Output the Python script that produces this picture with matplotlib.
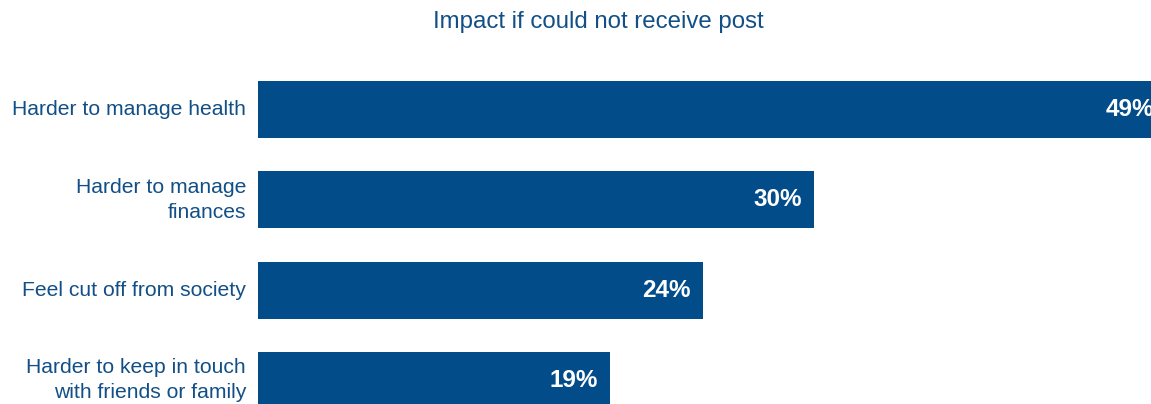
import matplotlib
matplotlib.use("Agg")
import matplotlib.pyplot as plt

categories = [
    "Harder to manage health",
    "Harder to manage\nfinances",
    "Feel cut off from society",
    "Harder to keep in touch\nwith friends or family",
]
values = [49, 30, 24, 19]
value_labels = ["49%", "30%", "24%", "19%"]
title = "Impact if could not receive post"

BAR_COLOR = "#024C8A"
TEXT_COLOR = "#124F86"

plt.rcParams["font.family"] = ["Liberation Sans", "DejaVu Sans"]

W, H = 1151, 404
fig = plt.figure(figsize=(W / 100, H / 100), dpi=100)

# axes in pixel terms: x from 258 px, 18.53 px per percentage point
px_per_unit = 18.53
x0 = 258
xmax = 50
row = 90.33
top = 109.5 - row / 2
bottom = top + 4 * row
ax = fig.add_axes([x0 / W, (H - bottom) / H, xmax * px_per_unit / W, (bottom - top) / H])

ypos = list(range(len(categories)))
ax.barh(ypos, values, height=0.63, color=BAR_COLOR, edgecolor="none")
ax.set_xlim(0, xmax)
ax.set_ylim(len(categories) - 0.5, -0.5)
ax.axis("off")

for y, v, lab in zip(ypos, values, value_labels):
    ax.annotate(lab, xy=(v, y), xytext=(-12, 0), textcoords="offset pixels",
                ha="right", va="center", color="white", fontsize=17.5,
                fontweight="bold")

for y, cat in zip(ypos, categories):
    ax.annotate(cat, xy=(0, y), xytext=(-12, 0), textcoords="offset pixels",
                ha="right", va="center", color=TEXT_COLOR, fontsize=15.2,
                linespacing=1.4, annotation_clip=False)

fig.text(598 / W, 1 - 22 / H, title, ha="center", va="center",
         color=TEXT_COLOR, fontsize=17.3)

fig.savefig("out.png", dpi=100, facecolor="white")
